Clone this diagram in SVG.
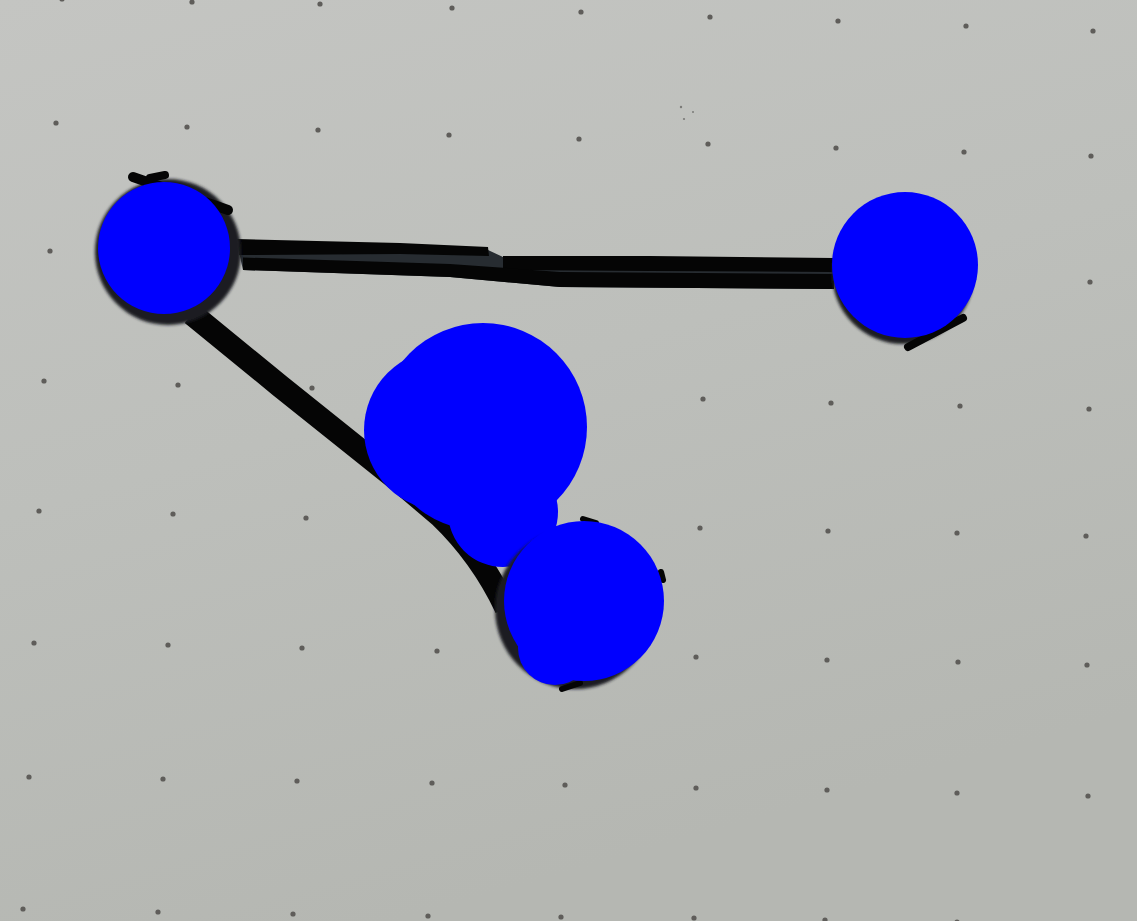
<svg xmlns="http://www.w3.org/2000/svg" width="1137" height="921" viewBox="0 0 1137 921">
<defs>
<linearGradient id="paper" x1="0" y1="0" x2="0.35" y2="1">
<stop offset="0" stop-color="#c4c5c2"/>
<stop offset="0.5" stop-color="#bdbfbb"/>
<stop offset="1" stop-color="#b5b7b2"/>
</linearGradient>
<filter id="soft" x="-20%" y="-20%" width="140%" height="140%"><feGaussianBlur stdDeviation="1.4"/></filter>
<filter id="dotblur" x="-50%" y="-50%" width="200%" height="200%"><feGaussianBlur stdDeviation="0.6"/></filter>
<style>
.dot{fill:#5e5d5a;filter:url(#dotblur)}
.speck{fill:#7a7a77}
.ink{fill:#050505}
.inkline{fill:none;stroke:#050505;stroke-linecap:round;stroke-linejoin:round}
.ring{fill:#1b1f23;filter:url(#soft)}
.seam{fill:#272c31}
.blue{fill:#0000ff}
</style>
</defs>
<rect x="0" y="0" width="1137" height="921" fill="url(#paper)"/>
<g id="dots">
<circle class="dot" cx="62" cy="-1" r="2.6"/><circle class="dot" cx="192" cy="2" r="2.6"/><circle class="dot" cx="320" cy="4" r="2.6"/><circle class="dot" cx="452" cy="8" r="2.6"/><circle class="dot" cx="581" cy="12" r="2.6"/><circle class="dot" cx="710" cy="17" r="2.6"/><circle class="dot" cx="838" cy="21" r="2.6"/><circle class="dot" cx="966" cy="26" r="2.6"/><circle class="dot" cx="1093" cy="31" r="2.6"/>
<circle class="dot" cx="56" cy="123" r="2.6"/><circle class="dot" cx="187" cy="127" r="2.6"/><circle class="dot" cx="318" cy="130" r="2.6"/><circle class="dot" cx="449" cy="135" r="2.6"/><circle class="dot" cx="579" cy="139" r="2.6"/><circle class="dot" cx="708" cy="144" r="2.6"/><circle class="dot" cx="836" cy="148" r="2.6"/><circle class="dot" cx="964" cy="152" r="2.6"/><circle class="dot" cx="1091" cy="156" r="2.6"/>
<circle class="dot" cx="50" cy="251" r="2.6"/><circle class="dot" cx="1090" cy="282" r="2.6"/>
<circle class="dot" cx="44" cy="381" r="2.6"/><circle class="dot" cx="178" cy="385" r="2.6"/><circle class="dot" cx="312" cy="388" r="2.6"/><circle class="dot" cx="703" cy="399" r="2.6"/><circle class="dot" cx="831" cy="403" r="2.6"/><circle class="dot" cx="960" cy="406" r="2.6"/><circle class="dot" cx="1089" cy="409" r="2.6"/>
<circle class="dot" cx="39" cy="511" r="2.6"/><circle class="dot" cx="173" cy="514" r="2.6"/><circle class="dot" cx="306" cy="518" r="2.6"/><circle class="dot" cx="700" cy="528" r="2.6"/><circle class="dot" cx="828" cy="531" r="2.6"/><circle class="dot" cx="957" cy="533" r="2.6"/><circle class="dot" cx="1086" cy="536" r="2.6"/>
<circle class="dot" cx="34" cy="643" r="2.6"/><circle class="dot" cx="168" cy="645" r="2.6"/><circle class="dot" cx="302" cy="648" r="2.6"/><circle class="dot" cx="437" cy="651" r="2.6"/><circle class="dot" cx="696" cy="657" r="2.6"/><circle class="dot" cx="827" cy="660" r="2.6"/><circle class="dot" cx="958" cy="662" r="2.6"/><circle class="dot" cx="1087" cy="665" r="2.6"/>
<circle class="dot" cx="29" cy="777" r="2.6"/><circle class="dot" cx="163" cy="779" r="2.6"/><circle class="dot" cx="297" cy="781" r="2.6"/><circle class="dot" cx="432" cy="783" r="2.6"/><circle class="dot" cx="565" cy="785" r="2.6"/><circle class="dot" cx="696" cy="788" r="2.6"/><circle class="dot" cx="827" cy="790" r="2.6"/><circle class="dot" cx="957" cy="793" r="2.6"/><circle class="dot" cx="1088" cy="796" r="2.6"/>
<circle class="dot" cx="23" cy="909" r="2.6"/><circle class="dot" cx="158" cy="912" r="2.6"/><circle class="dot" cx="293" cy="914" r="2.6"/><circle class="dot" cx="428" cy="916" r="2.6"/><circle class="dot" cx="561" cy="917" r="2.6"/><circle class="dot" cx="694" cy="918" r="2.6"/><circle class="dot" cx="825" cy="920" r="2.6"/><circle class="dot" cx="957" cy="922" r="2.6"/>
<circle class="speck" cx="681" cy="107" r="1.2"/><circle class="speck" cx="693" cy="112" r="1"/><circle class="speck" cx="684" cy="119" r="1.1"/>
</g>
<g id="connectors">
<path class="seam" d="M237,243 L488,250 L503,257 L834,259 L834,289 L560,287 L450,277 L243,270 Z"/>
<path class="ink" d="M237,239 L400,243 L488,247 L489,256 L400,254 L239,255 Z"/>
<path class="ink" d="M503,256 L650,256 L834,258 L834,272 L650,271 L503,270 Z"/>
<path class="ink" d="M243,257.5 L450,264 L560,272 L834,274 L834,289 L560,287 L450,277 L243,270 Z"/>
<path class="inkline" style="stroke-width:23;stroke-linecap:butt" d="M192,314 L280,386 L355,446 L400,482 L440,516 C465,540 487,568 506,608"/>
</g>
<g id="node-a">
<circle class="ring" cx="168" cy="252" r="73"/>
<path class="inkline" style="stroke-width:10" d="M133,177 L228,210"/>
<path class="inkline" style="stroke-width:8" d="M150,178 L165,175"/>
<circle class="blue" cx="164" cy="248" r="66"/>
</g>
<g id="node-b">
<circle class="ring" cx="903" cy="273" r="71"/>
<path class="inkline" style="stroke-width:8" d="M908,347 L963,318"/>
<circle class="blue" cx="905" cy="265" r="73"/>
</g>
<g id="node-c">
<circle class="blue" cx="445" cy="430" r="81"/>
<circle class="blue" cx="483" cy="427" r="104"/>
<circle class="blue" cx="503" cy="512" r="55"/>
</g>
<g id="node-d">
<circle class="ring" cx="575" cy="609" r="80"/>
<path class="inkline" style="stroke-width:6" d="M583,519 L596,523"/>
<path class="inkline" style="stroke-width:6" d="M661,572 L663,580"/>
<path class="inkline" style="stroke-width:6" d="M562,689 L580,683"/>
<circle class="blue" cx="584" cy="601" r="80"/>
<circle class="blue" cx="555" cy="648" r="37"/>
</g>
</svg>
